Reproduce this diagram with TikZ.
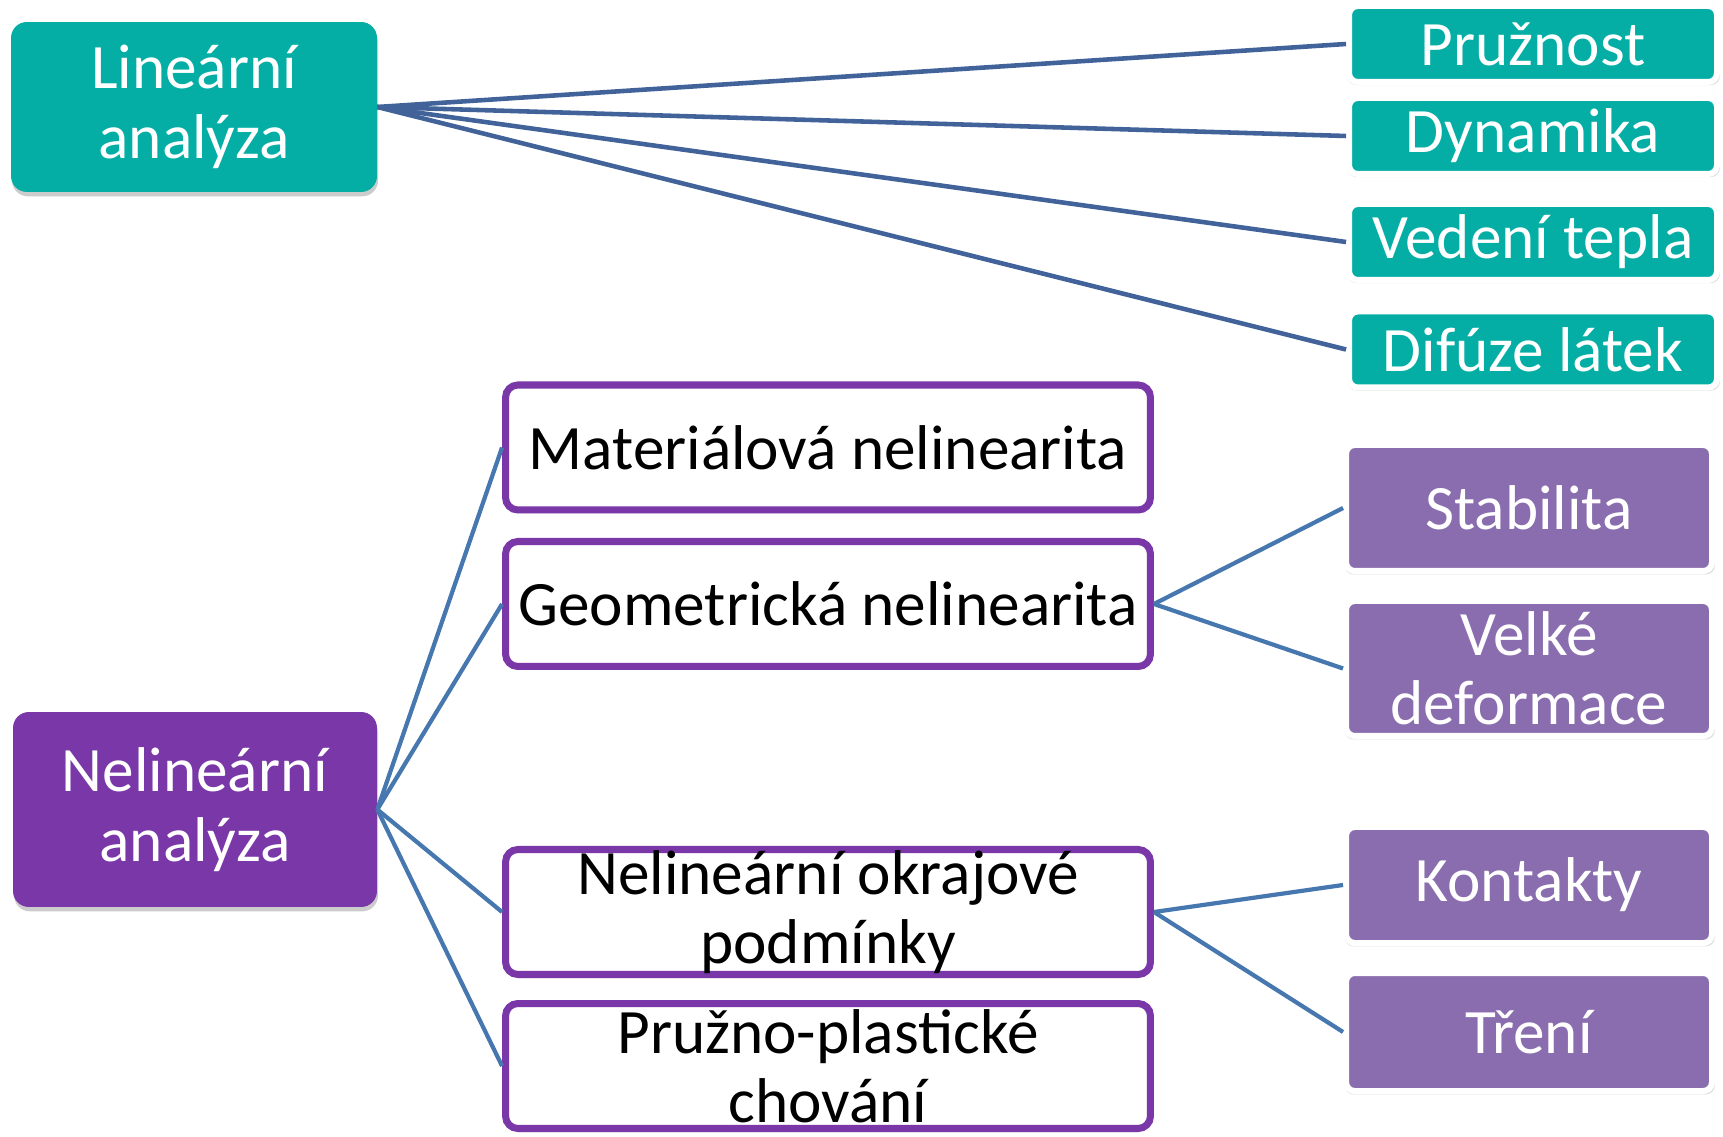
\documentclass[tikz,border=0pt]{standalone}
\usepackage{fontspec}
\setmainfont{Carlito}
\usepackage{tikz}
\usetikzlibrary{shadows,positioning}
\definecolor{tyrkys}{HTML}{05AEA5}
\definecolor{fialova}{HTML}{7A37A8}
\definecolor{fialsvetla}{HTML}{8A6DAE}
\definecolor{spojnice}{HTML}{41639A}
\definecolor{spojnice2}{HTML}{4677AE}
\tikzset{
  pismo/.style={font=\fontsize{36}{39.5}\selectfont},
  hlavni/.style={pismo,rounded corners=9pt,text=white,align=center,inner sep=0pt,drop shadow={opacity=0.4,shadow xshift=0.6pt,shadow yshift=-2.5pt}},
  linbox/.style={hlavni,fill=tyrkys,minimum width=7.32cm,minimum height=3.4cm},
  nelinbox/.style={hlavni,fill=fialova,minimum width=7.28cm,minimum height=3.9cm},
  listek/.style={pismo,rounded corners=5pt,draw=white,line width=3.4pt,text=white,align=center,inner sep=0pt,minimum width=7.36cm,drop shadow={opacity=0.25,shadow xshift=0.4pt,shadow yshift=-1.5pt,shadow scale=1.012}},
  listeklin/.style={listek,fill=tyrkys,minimum height=1.52cm},
  listeknelin/.style={listek,fill=fialsvetla,minimum width=7.32cm},
  typ/.style={pismo,rounded corners=7pt,draw=fialova,fill=white,line width=4pt,align=center,inner xsep=0pt,inner ysep=-12pt,minimum width=12.9cm,minimum height=2.5cm,drop shadow={opacity=0.3,shadow xshift=0.5pt,shadow yshift=-2pt}},
  vetev/.style={draw=spojnice,line width=2.6pt},
  vetev2/.style={draw=spojnice2,line width=2.4pt},
}

\begin{document}
\begin{tikzpicture}[x=0.02cm,y=0.02cm]
\useasboundingbox (0,0) rectangle (1723,1136);
\node[linbox] (lin) at (194,1029) {Lineární\\analýza};
\node[listeklin] (pruznost) at (1533,1092) {Pružnost};
\node[listeklin] (dynamika) at (1533,1000) {Dynamika};
\node[listeklin] (vedeni) at (1533,894) {Vedení tepla};
\node[listeklin] (difuze) at (1533,786.5) {Difúze látek};
\node[nelinbox] (nelin) at (195,326.5) {Nelineární\\analýza};
\node[typ] (material) at (828,688.5) {Materiálová nelinearita};
\node[typ] (geometr) at (828,532) {Geometrická nelinearita};
\node[typ] (okraj) at (828,224) {Nelineární okrajové\\podmínky};
\node[typ] (plast) at (828,70) {Pružno-plastické\\chování};
\node[listeknelin,minimum height=2.52cm] (stabil) at (1529,628) {Stabilita};
\node[listeknelin,minimum height=2.7cm] (deform) at (1529,467.5) {Velké\\deformace};
\node[listeknelin,minimum height=2.32cm] (kontakt) at (1529,251) {Kontakty};
\node[listeknelin,minimum height=2.36cm] (treni) at (1529,104) {Tření};
\draw[vetev] (lin.east) -- (pruznost.west);
\draw[vetev] (lin.east) -- (dynamika.west);
\draw[vetev] (lin.east) -- (vedeni.west);
\draw[vetev] (lin.east) -- (difuze.west);
\draw[vetev2] (nelin.east) -- (material.west);
\draw[vetev2] (nelin.east) -- (geometr.west);
\draw[vetev2] (nelin.east) -- (okraj.west);
\draw[vetev2] (nelin.east) -- (plast.west);
\draw[vetev2] (geometr.east) -- (stabil.west);
\draw[vetev2] (geometr.east) -- (deform.west);
\draw[vetev2] (okraj.east) -- (kontakt.west);
\draw[vetev2] (okraj.east) -- (treni.west);
\end{tikzpicture}
\end{document}
